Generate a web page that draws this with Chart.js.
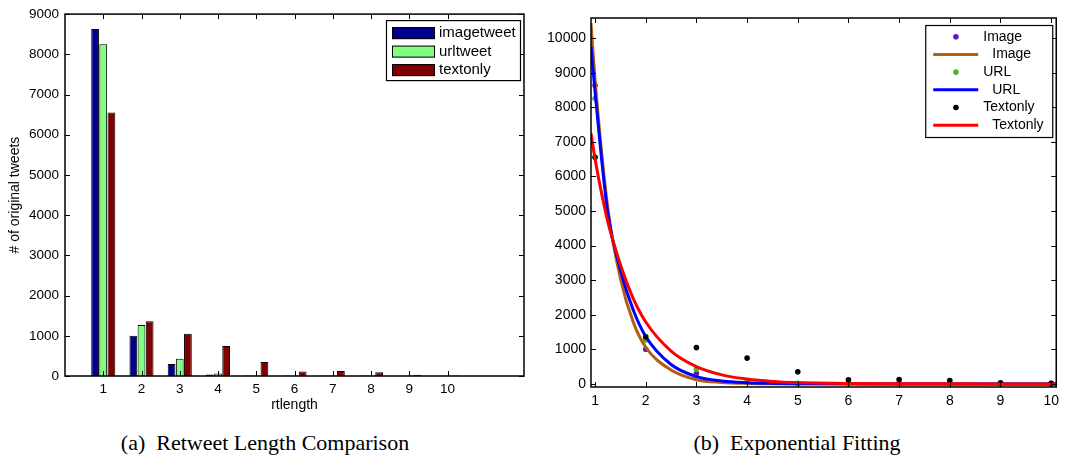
<!DOCTYPE html>
<html>
<head>
<meta charset="utf-8">
<script src="https://cdn.jsdelivr.net/npm/chart.js@4.4.1/dist/chart.umd.min.js"></script>
<style>
  html, body { margin: 0; padding: 0; background: #fff; }
  #wrap { position: relative; width: 1065px; height: 462px; overflow: hidden; }
  canvas { position: absolute; top: 0; }
  #bar-chart { left: 0; }
  #fit-chart { left: 535px; }
  .caption {
    position: absolute; top: 430px; line-height: 26px;
    font-family: 'Liberation Serif', 'Times New Roman', serif; font-size: 22px;
    color: #000; white-space: nowrap; transform: translateX(-50%);
  }
</style>
</head>
<body>
<div id="wrap">
  <canvas id="bar-chart" width="535" height="420"></canvas>
  <canvas id="fit-chart" width="530" height="420"></canvas>
  <div class="caption" style="left:265px">(a)&nbsp;&nbsp;Retweet Length Comparison</div>
  <div class="caption" style="left:797px">(b)&nbsp;&nbsp;Exponential Fitting</div>
</div>
<script>
// ═══════════════════════════════════════════════════
//  Retweet length — bars + exponential fits
// ═══════════════════════════════════════════════════

// ── Data ───────────────────────────────────────────
const rtLength   = [1, 2, 3, 4, 5, 6, 7, 8, 9, 10];
const imageTweet = [8630, 1000, 300, 40, 10, 10, 10, 10, 5, 5];
const urlTweet   = [8250, 1270, 430, 60, 15, 15, 20, 20, 10, 10];
const textOnly   = [6550, 1360, 1050, 745, 350, 115, 125, 95, 30, 15];

// fitted curves
const fitX     = [0.92, 1, 1.25, 1.5, 1.75, 2, 2.5, 3, 3.5, 4, 4.5, 5, 6, 7, 8, 9, 10.1];
const imageFit = [10430, 8800, 5100, 3050, 1800, 1060, 400, 120, 42, 14, 5, 2, 0, 0, 0, 0, 0];
const urlFit   = [9750, 8450, 4950, 3300, 2150, 1370, 560, 210, 85, 35, 14, 6, 1, 0, 0, 0, 0];
const textFit  = [7250, 6500, 4700, 3450, 2480, 1790, 950, 500, 260, 140, 72, 38, 11, 3, 1, 0, 0];

const barTicksY = [0, 1000, 2000, 3000, 4000, 5000, 6000, 7000, 8000, 9000];
const fitTicksY = [0, 1000, 2000, 3000, 4000, 5000, 6000, 7000, 8000, 9000, 10000];

Chart.defaults.font.family = "'Liberation Sans', Arial, sans-serif";
Chart.defaults.color = '#000';

const pts = (xs, ys) => xs.map((x, i) => ({ x, y: ys[i] }));
const fixTicks = list => s => { s.ticks = list.map(v => ({ value: v })); };

// ── MATLAB-style box with inward ticks ─────────────
const boxTicks = {
  id: 'boxTicks',
  afterDatasetsDraw(chart) {
    const { ctx, chartArea: a, scales: { x, y } } = chart;
    const len = 5;
    ctx.save();
    ctx.strokeStyle = '#000';
    ctx.lineWidth = 1;
    ctx.beginPath();
    x.ticks.forEach(t => {
      const px = Math.round(x.getPixelForValue(t.value)) + 0.5;
      ctx.moveTo(px, a.bottom); ctx.lineTo(px, a.bottom - len);
      ctx.moveTo(px, a.top);    ctx.lineTo(px, a.top + len);
    });
    y.ticks.forEach(t => {
      const py = Math.round(y.getPixelForValue(t.value)) + 0.5;
      ctx.moveTo(a.left, py);  ctx.lineTo(a.left + len, py);
      ctx.moveTo(a.right, py); ctx.lineTo(a.right - len, py);
    });
    ctx.stroke();
    ctx.lineWidth = 1.5;
    ctx.strokeRect(a.left, a.top, a.right - a.left, a.bottom - a.top);
    ctx.restore();
  }
};

// ── Legend drawn inside the plot ───────────────────
const boxLegend = {
  id: 'boxLegend',
  afterDraw(chart, args, o) {
    const { ctx, chartArea: a } = chart;
    const x0 = a.right - o.right - o.width;
    const y0 = a.top + o.top;
    ctx.save();
    ctx.fillStyle = '#fff';
    ctx.fillRect(x0, y0, o.width, o.height);
    ctx.strokeStyle = '#000';
    ctx.lineWidth = 1.2;
    ctx.strokeRect(x0 + 0.5, y0 + 0.5, o.width, o.height);
    ctx.font = o.font;
    ctx.textBaseline = 'middle';
    o.items.forEach((it, i) => {
      const cy = y0 + o.first + i * o.step;
      let tx = x0 + o.textX;
      if (it.kind === 'box') {
        ctx.fillStyle = it.color;
        ctx.fillRect(x0 + 6, cy - 6, 43, 12);
        ctx.lineWidth = 1;
        ctx.strokeStyle = '#000';
        ctx.strokeRect(x0 + 6.5, cy - 5.5, 42, 11);
      } else if (it.kind === 'dot') {
        ctx.fillStyle = it.color;
        ctx.beginPath();
        ctx.arc(x0 + 30.7, cy, 2.8, 0, Math.PI * 2);
        ctx.fill();
      } else {
        ctx.strokeStyle = it.color;
        ctx.lineWidth = 3;
        ctx.beginPath();
        ctx.moveTo(x0 + 8, cy); ctx.lineTo(x0 + 53, cy);
        ctx.stroke();
        tx = x0 + o.lineTextX;
      }
      ctx.fillStyle = '#000';
      ctx.fillText(it.label, tx, cy);
    });
    ctx.restore();
  }
};

// ── (a) bar chart ──────────────────────────────────
const barSets = [
  { label: 'imagetweet', data: pts(rtLength, imageTweet), backgroundColor: '#00008f' },
  { label: 'urltweet',   data: pts(rtLength, urlTweet),   backgroundColor: '#80ff80' },
  { label: 'textonly',   data: pts(rtLength, textOnly),   backgroundColor: '#800000' },
].map(d => ({ ...d, borderColor: '#000', borderWidth: 1, categoryPercentage: 0.64, barPercentage: 0.95 }));

new Chart(document.getElementById('bar-chart'), {
  type: 'bar',
  data: { datasets: barSets },
  options: {
    responsive: false,
    animation: false,
    events: [],
    layout: { padding: { top: 13, right: 11, left: 0, bottom: 0 } },
    plugins: {
      legend: { display: false },
      tooltip: { enabled: false },
      boxLegend: {
        right: 4, top: 6, width: 134, height: 60, first: 13, step: 18.5,
        textX: 53, lineTextX: 53, font: "15px 'Liberation Sans', Arial, sans-serif",
        items: barSets.map(d => ({ kind: 'box', color: d.backgroundColor, label: d.label })),
      },
    },
    scales: {
      x: {
        type: 'linear', min: 0, max: 12, offset: false,
        grid: { display: false, drawTicks: false }, border: { display: false },
        afterBuildTicks: fixTicks(rtLength),
        afterFit: s => { s.height = 44; },
        ticks: { padding: 5, font: { size: 13.5 }, callback: v => String(v) },
        title: { display: true, text: 'rtlength', font: { size: 14 }, padding: { top: 0, bottom: 6.6 } },
      },
      y: {
        min: 0, max: 9000,
        grid: { display: false, drawTicks: false }, border: { display: false },
        afterBuildTicks: fixTicks(barTicksY),
        afterFit: s => { s.width = 65; },
        ticks: { padding: 6, font: { size: 13.5 }, callback: v => String(v) },
        title: { display: true, text: '# of original tweets', font: { size: 14 }, padding: { top: 6.6, bottom: 0 } },
      },
    },
  },
  plugins: [boxTicks, boxLegend],
});

// ── (b) exponential fitting ────────────────────────
const dotSet  = (label, ys, color, order) =>
  ({ label, kind: 'dot', data: pts(rtLength, ys), showLine: false, pointRadius: 2.8,
     pointBackgroundColor: color, pointBorderWidth: 0, backgroundColor: color, order });
const lineSet = (label, ys, color, order) =>
  ({ label, kind: 'line', data: pts(fitX, ys), showLine: true, pointRadius: 0, borderColor: color,
     borderWidth: 3, cubicInterpolationMode: 'monotone', order });

const fitSets = [
  dotSet('Image', imageTweet, '#6419b4', 6),
  lineSet('Image', imageFit, '#b2600f', 5),
  dotSet('URL', urlTweet, '#50b41e', 4),
  lineSet('URL', urlFit, '#0000ff', 3),
  dotSet('Textonly', textOnly, '#000000', 2),
  lineSet('Textonly', textFit, '#ff0000', 1),
];

new Chart(document.getElementById('fit-chart'), {
  type: 'scatter',
  data: { datasets: fitSets },
  options: {
    responsive: false,
    animation: false,
    events: [],
    layout: { padding: { top: 18, right: 4, left: 0, bottom: 0 } },
    plugins: {
      legend: { display: false },
      tooltip: { enabled: false },
      boxLegend: {
        right: 4, top: 7, width: 127, height: 112, first: 11.7, step: 17.7,
        textX: 58, lineTextX: 67, font: "14px 'Liberation Sans', Arial, sans-serif",
        items: fitSets.map(d => ({ kind: d.kind, label: d.label,
          color: d.kind === 'dot' ? d.pointBackgroundColor : d.borderColor })),
      },
    },
    scales: {
      x: {
        type: 'linear', min: 0.92, max: 10.1,
        grid: { display: false, drawTicks: false }, border: { display: false },
        afterBuildTicks: fixTicks(rtLength),
        afterFit: s => { s.height = 33; },
        ticks: { padding: 6, font: { size: 14 }, callback: v => String(v) },
      },
      y: {
        min: -90, max: 10580,
        grid: { display: false, drawTicks: false }, border: { display: false },
        afterBuildTicks: fixTicks(fitTicksY),
        afterFit: s => { s.width = 56; },
        ticks: { padding: 5, font: { size: 14 }, callback: v => String(v) },
      },
    },
  },
  plugins: [boxTicks, boxLegend],
});
</script>
</body>
</html>
